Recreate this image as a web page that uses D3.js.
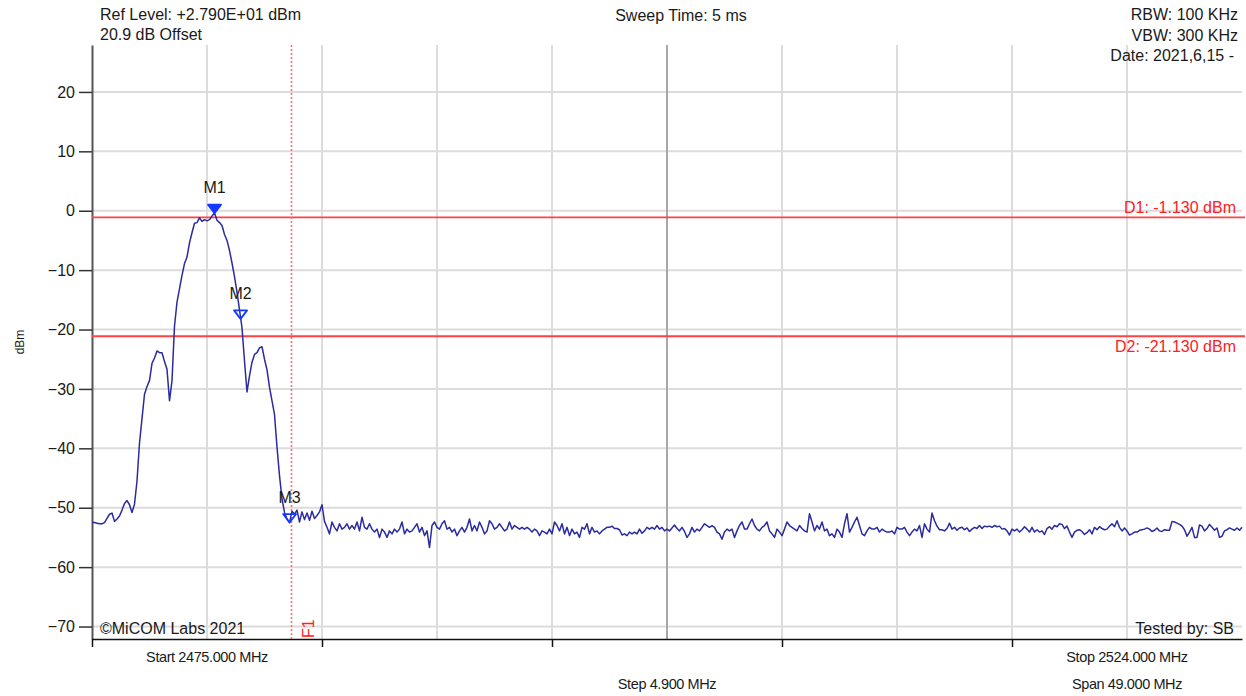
<!DOCTYPE html>
<html>
<head>
<meta charset="utf-8">
<script src="https://cdn.jsdelivr.net/npm/d3@7"></script>
<style>
  body { margin: 0; background: #fff; }
  svg { display: block; font-family: "Liberation Sans", Arial, sans-serif; }
</style>
</head>
<body>
<div id="chart"></div>
<script>
// sweep settings
var startMHz = 2475;
var stopMHz = 2524;
var refLevel = 27.9;
var dbPerDiv = 10;
var divisions = 10;

var yTicks = [20, 10, 0, -10, -20, -30, -40, -50, -60, -70];
var xTickDivs = [0, 2, 4, 6, 8];

// trace, dBm, equally spaced from start to stop
var traceLevels = [
  -52.5,-52.5,-52.6,-52.7,-52.7,-52.5,-51.8,-51.1,-50.9,-52.3,-51.9,-51.4,-50.4,-49.3,-48.8,-49.5,-50.8,-49.4,-45.5,-39.1,
  -35.0,-30.9,-29.6,-28.6,-25.7,-24.8,-23.6,-23.9,-23.9,-25.4,-26.7,-32.0,-28.6,-19.4,-15.4,-13.1,-10.9,-8.9,-7.8,-5.4,
  -3.7,-2.1,-2.0,-1.2,-1.8,-1.5,-1.7,-1.5,-0.9,-0.4,-1.6,-2.0,-2.5,-4.0,-5.0,-6.7,-8.8,-11.1,-13.7,-16.7,
  -19.7,-25.3,-30.5,-27.8,-25.5,-24.2,-23.9,-23.1,-22.9,-25.0,-26.8,-29.7,-32.0,-34.3,-39.8,-44.6,-48.5,-50.8,-51.9,-52.5,
  -50.6,-51.1,-50.4,-52.4,-50.7,-52.0,-50.9,-52.1,-50.6,-51.8,-51.3,-50.7,-49.5,-52.3,-53.3,-54.4,-52.4,-53.3,-53.9,-52.7,
  -53.6,-53.3,-52.7,-53.6,-53.0,-53.6,-52.4,-53.9,-51.6,-53.3,-53.6,-52.7,-53.6,-54.1,-53.6,-55.0,-53.6,-54.1,-55.0,-53.9,
  -54.4,-53.6,-54.1,-53.6,-52.4,-54.4,-53.6,-54.1,-53.9,-53.3,-52.7,-54.1,-53.3,-54.7,-53.9,-56.7,-53.0,-52.4,-53.3,-53.6,
  -52.7,-52.2,-53.6,-53.3,-54.1,-53.6,-54.7,-53.9,-53.3,-54.1,-53.3,-51.9,-53.9,-53.0,-53.9,-52.4,-53.3,-54.4,-53.9,-52.2,
  -52.7,-53.6,-53.3,-52.7,-53.3,-53.9,-53.6,-52.4,-53.6,-53.0,-53.3,-53.6,-53.3,-53.6,-53.3,-53.6,-54.1,-53.6,-53.9,-54.7,
  -53.9,-54.1,-54.4,-53.6,-54.4,-52.4,-53.0,-53.9,-52.7,-54.4,-53.3,-54.7,-53.6,-54.4,-54.1,-55.0,-53.3,-53.6,-52.7,-54.4,
  -53.3,-54.1,-53.9,-54.4,-53.9,-53.6,-53.3,-53.3,-53.1,-53.5,-53.5,-53.7,-54.6,-54.4,-54.7,-54.1,-54.4,-54.1,-54.4,-53.6,
  -54.3,-53.9,-53.3,-53.6,-53.3,-53.6,-53.0,-53.6,-53.3,-53.9,-53.6,-53.9,-53.4,-52.9,-53.5,-53.9,-53.3,-54.0,-55.0,-54.4,
  -53.3,-54.1,-53.6,-53.9,-53.3,-52.7,-53.0,-53.3,-53.0,-53.3,-54.1,-54.4,-55.3,-54.1,-53.6,-53.9,-53.6,-55.0,-53.9,-53.0,
  -52.4,-53.6,-53.6,-52.7,-51.9,-53.0,-53.6,-53.9,-53.3,-53.0,-52.4,-53.9,-54.4,-55.0,-53.6,-54.1,-54.7,-53.6,-52.4,-53.0,
  -53.3,-53.6,-53.9,-53.0,-53.5,-53.9,-54.1,-51.0,-52.4,-53.9,-53.0,-53.6,-52.4,-53.9,-53.6,-54.7,-54.4,-55.0,-53.6,-54.1,
  -55.0,-52.7,-51.0,-54.1,-53.3,-52.4,-51.6,-53.0,-54.4,-54.7,-53.9,-53.3,-53.6,-53.6,-53.3,-54.1,-53.6,-53.9,-54.1,-54.1,
  -53.9,-54.4,-53.3,-53.6,-53.6,-53.3,-54.1,-54.7,-54.1,-53.6,-53.9,-53.0,-55.0,-52.7,-53.6,-54.1,-50.9,-52.2,-53.1,-53.7,
  -53.7,-53.9,-53.5,-52.6,-53.6,-53.3,-53.8,-53.4,-53.3,-53.7,-53.4,-54.0,-53.6,-53.3,-53.5,-53.0,-53.5,-53.1,-53.2,-53.1,
  -53.3,-53.0,-53.2,-53.1,-53.6,-53.5,-53.9,-54.6,-53.6,-53.9,-53.6,-54.1,-53.7,-53.2,-53.6,-54.1,-53.3,-54.1,-53.7,-54.1,
  -53.9,-54.5,-53.5,-53.2,-53.6,-53.0,-53.2,-52.7,-52.8,-53.5,-53.1,-54.1,-55.0,-54.1,-53.8,-53.7,-54.0,-54.5,-54.2,-53.7,
  -54.4,-53.3,-53.7,-53.2,-53.5,-53.7,-53.6,-53.1,-52.7,-53.2,-52.2,-53.3,-53.9,-53.4,-53.9,-54.6,-54.4,-54.1,-54.1,-53.8,
  -53.7,-53.6,-53.4,-53.6,-54.0,-53.8,-53.4,-53.9,-54.0,-53.7,-53.8,-53.8,-52.3,-52.4,-52.6,-52.8,-53.1,-53.7,-54.8,-54.1,
  -53.3,-55.0,-55.0,-52.9,-53.1,-53.9,-53.5,-52.8,-53.3,-53.8,-53.4,-55.0,-54.8,-53.9,-53.7,-53.4,-53.6,-53.8,-53.4,-53.8,-53.3
];

var markerNames = ["M1", "M2", "M3"];
var markerFreqs = [2480.22, 2481.33, 2483.42];
var markerLevels = [-0.4, -18.2, -52.5];
var markerFilled = [true, false, false];

var displayLineNames = ["D1", "D2"];
var displayLineLevels = [-1.13, -21.13];

var freqLineNames = ["F1"];
var freqLineValues = [2483.5];

var headerLeft = ["Ref Level: +2.790E+01 dBm", "20.9 dB Offset"];
var headerCenter = "Sweep Time: 5 ms";
var headerRight = ["RBW: 100 KHz", "VBW: 300 KHz", "Date: 2021,6,15 -"];
var footerLeft = "\u00A9MiCOM Labs 2021";
var footerRight = "Tested by: SB";

var width = 1246, height = 696;
var plotLeft = 92, plotTop = 45, plotRight = 1242, plotBottom = 639;

var svg = d3.select("#chart").append("svg")
    .attr("width", width)
    .attr("height", height);

var x = d3.scaleLinear().domain([startMHz, stopMHz]).range([plotLeft, plotRight]);
var y = d3.scaleLinear().domain([refLevel - dbPerDiv * divisions, refLevel]).range([plotBottom, plotTop]);
var stepMHz = (stopMHz - startMHz) / divisions;

// grid
var grid = svg.append("g");
grid.selectAll(".hgrid")
    .data(yTicks)
    .enter().append("line")
    .attr("x1", plotLeft).attr("x2", plotRight)
    .attr("y1", function (d) { return y(d); })
    .attr("y2", function (d) { return y(d); })
    .attr("stroke", "#dcdcdc")
    .attr("stroke-width", 2);

grid.selectAll(".vgrid")
    .data(d3.range(1, divisions))
    .enter().append("line")
    .attr("x1", function (d) { return x(startMHz + d * stepMHz); })
    .attr("x2", function (d) { return x(startMHz + d * stepMHz); })
    .attr("y1", plotTop).attr("y2", plotBottom)
    .attr("stroke", function (d) { return d === divisions / 2 ? "#a8a8a8" : "#dcdcdc"; })
    .attr("stroke-width", 2);

// axes
var yAxis = svg.append("g")
    .attr("transform", "translate(" + plotLeft + ",0)")
    .call(d3.axisLeft(y).tickValues(yTicks).tickSize(13).tickSizeOuter(0).tickPadding(4));
yAxis.select(".domain").attr("stroke", "#555").attr("stroke-width", 2);
yAxis.selectAll(".tick line").attr("stroke", "#333").attr("stroke-width", 1.5);
yAxis.selectAll(".tick text")
    .attr("fill", "#1a1a1a")
    .style("font-size", "16px")
    .style("font-family", "'Liberation Sans', Arial, sans-serif");

var xAxis = svg.append("g")
    .attr("transform", "translate(0," + plotBottom + ")")
    .call(d3.axisBottom(x)
        .tickValues(xTickDivs.map(function (d) { return startMHz + d * stepMHz; }))
        .tickSize(8).tickSizeOuter(0).tickFormat(""));
xAxis.select(".domain").attr("stroke", "#111").attr("stroke-width", 1.5);
xAxis.selectAll(".tick line").attr("stroke", "#111").attr("stroke-width", 1.5);

// display lines
svg.selectAll(".dline")
    .data(displayLineLevels)
    .enter().append("line")
    .attr("x1", plotLeft).attr("x2", plotRight + 3)
    .attr("y1", function (d) { return y(d); })
    .attr("y2", function (d) { return y(d); })
    .attr("stroke", "#ff4242")
    .attr("stroke-width", 1.8);

svg.selectAll(".dlabel")
    .data(displayLineLevels)
    .enter().append("text")
    .attr("x", 1236)
    .attr("y", function (d, i) { return i === 0 ? y(d) - 4 : y(d) + 16; })
    .attr("text-anchor", "end")
    .attr("fill", "#ff2020")
    .style("font-size", "16px")
    .text(function (d, i) { return displayLineNames[i] + ": " + d.toFixed(3) + " dBm"; });

// frequency line
svg.selectAll(".fline")
    .data(freqLineValues)
    .enter().append("line")
    .attr("x1", function (d) { return x(d); })
    .attr("x2", function (d) { return x(d); })
    .attr("y1", plotTop).attr("y2", plotBottom)
    .attr("stroke", "#ff6a6a")
    .attr("stroke-width", 1.6)
    .attr("stroke-dasharray", "2,2");

svg.selectAll(".flabel")
    .data(freqLineValues)
    .enter().append("text")
    .attr("transform", function (d) { return "translate(" + (x(d) + 23) + "," + (plotBottom - 1) + ") rotate(-90)"; })
    .attr("fill", "#ff2020")
    .style("font-size", "16px")
    .text(function (d, i) { return freqLineNames[i]; });

// trace
var n = traceLevels.length;
var line = d3.line()
    .x(function (d, i) { return x(startMHz + i * (stopMHz - startMHz) / (n - 1)); })
    .y(function (d) { return y(d); });

svg.append("path")
    .datum(traceLevels)
    .attr("d", line)
    .attr("fill", "none")
    .attr("stroke", "#2b2ba0")
    .attr("stroke-width", 1.5)
    .attr("stroke-linejoin", "round");

// markers
var mk = svg.selectAll(".marker")
    .data(markerNames)
    .enter().append("g");

mk.append("path")
    .attr("d", function (d, i) {
        var mx = x(markerFreqs[i]), my = y(markerLevels[i]);
        return "M" + mx + "," + my + "L" + (mx - 6.5) + "," + (my - 8.5) + "L" + (mx + 6.5) + "," + (my - 8.5) + "Z";
    })
    .attr("fill", function (d, i) { return markerFilled[i] ? "#1438ff" : "none"; })
    .attr("stroke", "#1438ff")
    .attr("stroke-width", 1.8)
    .attr("stroke-linejoin", "round");

mk.append("text")
    .attr("x", function (d, i) { return x(markerFreqs[i]); })
    .attr("y", function (d, i) { return y(markerLevels[i]) - 20; })
    .attr("text-anchor", "middle")
    .attr("fill", "#1a1a1a")
    .style("font-size", "16px")
    .text(function (d) { return d; });

// header / footer texts
svg.selectAll(".hl")
    .data(headerLeft)
    .enter().append("text")
    .attr("x", 100)
    .attr("y", function (d, i) { return 20 + i * 20; })
    .attr("fill", "#1a1a1a")
    .style("font-size", "16px")
    .text(function (d) { return d; });

svg.append("text")
    .attr("x", 681).attr("y", 21)
    .attr("text-anchor", "middle")
    .attr("fill", "#1a1a1a")
    .style("font-size", "16px")
    .text(headerCenter);

svg.selectAll(".hr")
    .data(headerRight)
    .enter().append("text")
    .attr("x", function (d, i) { return i < 2 ? 1238 : 1234; })
    .attr("y", function (d, i) { return 20 + i * 20.5; })
    .attr("text-anchor", "end")
    .attr("fill", "#1a1a1a")
    .style("font-size", "16px")
    .text(function (d) { return d; });

svg.append("text")
    .attr("x", 100).attr("y", 634)
    .attr("fill", "#1a1a1a")
    .style("font-size", "16px")
    .text(footerLeft);

svg.append("text")
    .attr("x", 1234).attr("y", 634)
    .attr("text-anchor", "end")
    .attr("fill", "#1a1a1a")
    .style("font-size", "16px")
    .text(footerRight);

// frequency labels under the axis
var freqLabels = [
    { t: "Start " + startMHz.toFixed(3) + " MHz", div: 1, row: 0 },
    { t: "Stop " + stopMHz.toFixed(3) + " MHz", div: 9, row: 0 },
    { t: "Step " + stepMHz.toFixed(3) + " MHz", div: 5, row: 1 },
    { t: "Span " + (stopMHz - startMHz).toFixed(3) + " MHz", div: 9, row: 1 }
];
svg.selectAll(".flab")
    .data(freqLabels)
    .enter().append("text")
    .attr("x", function (d) { return x(startMHz + d.div * stepMHz); })
    .attr("y", function (d) { return 662 + d.row * 27; })
    .attr("text-anchor", "middle")
    .attr("fill", "#1a1a1a")
    .style("font-size", "14.5px")
    .style("letter-spacing", "-0.4px")
    .text(function (d) { return d.t; });

svg.append("text")
    .attr("transform", "translate(24,342) rotate(-90)")
    .attr("text-anchor", "middle")
    .attr("fill", "#1a1a1a")
    .style("font-size", "12px")
    .text("dBm");
</script>
</body>
</html>
